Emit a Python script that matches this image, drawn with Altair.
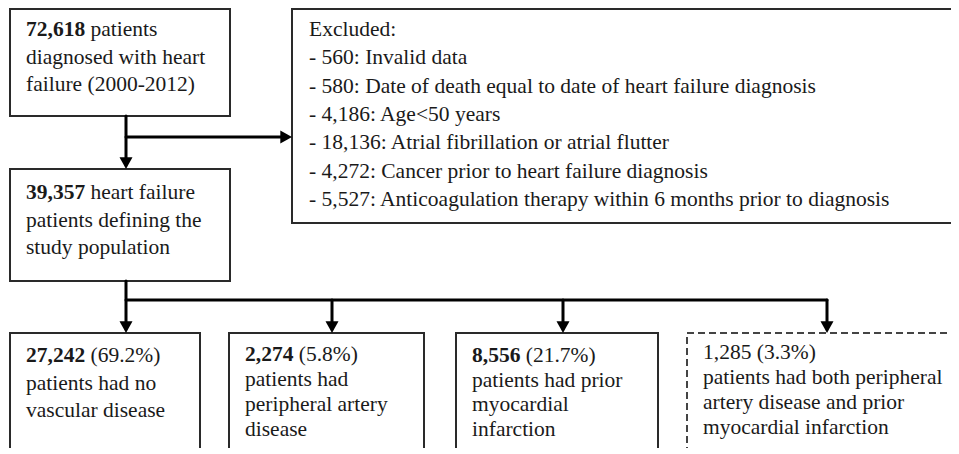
import altair as alt
import pandas as pd

# ---------------- values ----------------
total_hf = 72618
study_pop = 39357
excl_counts = [560, 580, 4186, 18136, 4272, 5527]
excl_reasons = [
    "Invalid data",
    "Date of death equal to date of heart failure diagnosis",
    "Age<50 years",
    "Atrial fibrillation or atrial flutter",
    "Cancer prior to heart failure diagnosis",
    "Anticoagulation therapy within 6 months prior to diagnosis",
]
group_counts = [27242, 2274, 8556, 1285]
group_pcts = [69.2, 5.8, 21.7, 3.3]
group_desc = [
    ["patients had no", "vascular disease"],
    ["patients had", "peripheral artery", "disease"],
    ["patients had prior", "myocardial", "infarction"],
    ["patients had both peripheral", "artery disease and prior", "myocardial infarction"],
]
group_bold = [True, True, True, False]

# ---------------- layout ----------------
W, H = 943, 440
X0, Y0 = 8, 8
FS = 21.5
FONT = "Liberation Serif, Times New Roman, serif"
TXT = "#1a1a1a"

xs = alt.Scale(domain=[X0, X0 + W], nice=False, zero=False)
ys = alt.Scale(domain=[Y0, Y0 + H], nice=False, zero=False, reverse=True)

def fmt(n):
    return f"{n:,}"

def bold_w(s):
    return sum(0.5 if c.isdigit() else 0.25 for c in s) * FS + 0.25 * FS

# boxes: (x, x2, y, y2)
box_top1 = (10, 230, 9, 116)
box_excl = (292, 975, 9, 223)
box_pop = (10, 230, 169, 281)
bottom_boxes = [(10, 200), (229, 424), (456, 658), (687, 975)]
bot_y, bot_y2 = 333, 452

rects = [dict(x=box_top1[0], x2=box_top1[1], y=box_top1[2], y2=box_top1[3], dashed=False),
         dict(x=box_excl[0], x2=box_excl[1], y=box_excl[2], y2=box_excl[3], dashed=False),
         dict(x=box_pop[0], x2=box_pop[1], y=box_pop[2], y2=box_pop[3], dashed=False)]
for (bx, bx2), b in zip(bottom_boxes, group_bold):
    rects.append(dict(x=bx, x2=bx2, y=bot_y, y2=bot_y2, dashed=not b))
rect_df = pd.DataFrame(rects)

# text lines
reg, bold = [], []
tx = box_top1[0] + 16
s = fmt(total_hf)
bold.append(dict(x=tx, y=30, text=s))
reg.append(dict(x=tx + bold_w(s), y=30, text="patients"))
reg.append(dict(x=tx, y=57.5, text="diagnosed with heart"))
reg.append(dict(x=tx, y=85, text="failure (2000-2012)"))
ex = box_excl[0] + 17
reg.append(dict(x=ex, y=30, text="Excluded:"))
for i, (c, r) in enumerate(zip(excl_counts, excl_reasons)):
    reg.append(dict(x=ex, y=58.3 + 28.3 * i, text=f"- {fmt(c)}: {r}"))
s = fmt(study_pop)
bold.append(dict(x=tx, y=193, text=s))
reg.append(dict(x=tx + bold_w(s), y=193, text="heart  failure"))
reg.append(dict(x=tx, y=220.5, text="patients defining the"))
reg.append(dict(x=tx, y=248, text="study population"))
first_y = [356, 355, 356, 353]
spacing = [27.5, 25, 24.5, 25]
for k, ((bx, bx2), c, p, desc, b) in enumerate(zip(bottom_boxes, group_counts, group_pcts, group_desc, group_bold)):
    gx = bx + 16
    s = fmt(c)
    if b:
        bold.append(dict(x=gx, y=first_y[k], text=s))
        reg.append(dict(x=gx + bold_w(s), y=first_y[k], text=f"({p}%)"))
    else:
        reg.append(dict(x=gx, y=first_y[k], text=f"{s} ({p}%)"))
    for j, line in enumerate(desc):
        reg.append(dict(x=gx, y=first_y[k] + spacing[k] * (j + 1), text=line))
reg_df = pd.DataFrame(reg)
bold_df = pd.DataFrame(bold)

# connectors
AH = 11.5
trunk_x = 126
arrow_x = [trunk_x, 332, 563, 827]
branch_y = 300
segs = [
    dict(x=trunk_x, y=116, x2=trunk_x, y2=box_pop[2] - AH + 1),
    dict(x=trunk_x, y=137, x2=box_excl[0] - AH + 1, y2=137),
    dict(x=trunk_x, y=box_pop[3], x2=trunk_x, y2=bot_y - AH + 1),
    dict(x=trunk_x, y=branch_y, x2=arrow_x[-1], y2=branch_y),
]
for ax in arrow_x[1:]:
    segs.append(dict(x=ax, y=branch_y, x2=ax, y2=bot_y - AH + 1))
seg_df = pd.DataFrame(segs)

down_df = pd.DataFrame([dict(x=trunk_x, y=box_pop[2])] + [dict(x=ax, y=bot_y) for ax in arrow_x])
right_df = pd.DataFrame([dict(x=box_excl[0], y=137)])

DOWN = "M-1,-1.8L1,-1.8L0,0Z"
RIGHT = "M-1.8,-1L-1.8,1L0,0Z"

def enc(m, with2=False):
    e = dict(x=alt.X("x:Q", scale=xs, axis=None), y=alt.Y("y:Q", scale=ys, axis=None))
    if with2:
        e.update(x2="x2:Q", y2="y2:Q")
    return m.encode(**e)

solid = enc(alt.Chart(rect_df).transform_filter("!datum.dashed").mark_rect(
    fill="white", stroke="#2a2a2a", strokeWidth=2, clip=True), True)
dashed = enc(alt.Chart(rect_df).transform_filter("datum.dashed").mark_rect(
    fill="white", stroke="#444", strokeWidth=2, strokeDash=[7, 4], clip=True), True)
lines = enc(alt.Chart(seg_df).mark_rule(color="black", strokeWidth=3, strokeCap="round", clip=True), True)
downs = enc(alt.Chart(down_df).mark_point(shape=DOWN, size=169, filled=True, color="black", opacity=1))
rights = enc(alt.Chart(right_df).mark_point(shape=RIGHT, size=169, filled=True, color="black", opacity=1))
t_reg = enc(alt.Chart(reg_df).mark_text(align="left", baseline="middle", font=FONT, fontSize=FS,
                                          color=TXT, clip=True)).encode(text="text:N")
t_bold = enc(alt.Chart(bold_df).mark_text(align="left", baseline="middle", font=FONT, fontSize=FS,
                                            fontWeight="bold", color=TXT, clip=True)).encode(text="text:N")

chart = alt.layer(solid, dashed, lines, downs, rights, t_reg, t_bold).properties(
    width=W, height=H, padding=0, autosize=alt.AutoSizeParams(type="none"),
    background="white",
).configure_view(strokeWidth=0)

chart.save("out.html", embed_options={"renderer": "svg", "actions": False})
